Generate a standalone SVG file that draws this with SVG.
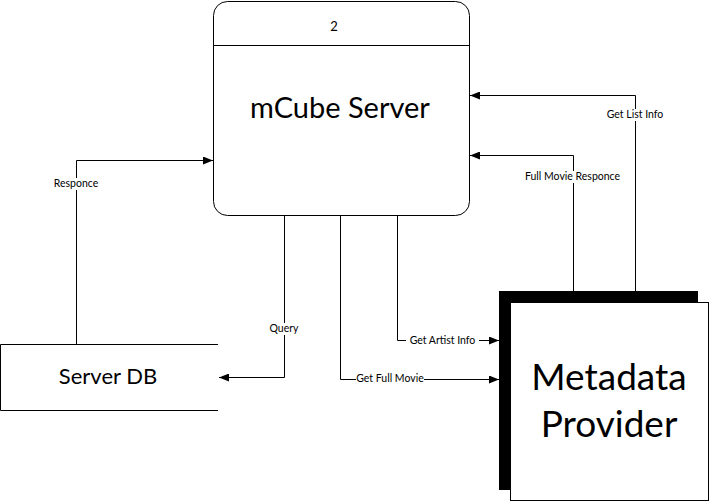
<svg xmlns="http://www.w3.org/2000/svg" width="710" height="502" viewBox="0 0 710 502">
<style>
  .ln{fill:none;stroke:#000;stroke-width:1}
  .t{font-family:Lato,"Liberation Sans",sans-serif;fill:#000;text-anchor:middle}
  .lbl{font-size:10.5px}
  .bg{fill:#fff}
</style>
<defs>
  <marker id="ah" viewBox="0 0 10 8" refX="10" refY="4" markerWidth="10" markerHeight="8" markerUnits="userSpaceOnUse" orient="auto">
    <path d="M0 0L10 4L0 8z" fill="#000"/>
  </marker>
</defs>
<rect width="710" height="502" fill="#fff"/>
<g id="connectors">
  <path class="ln" d="M635.5 291V95.5H470" marker-end="url(#ah)"/>
  <path class="ln" d="M573.5 291V155.5H470" marker-end="url(#ah)"/>
  <path class="ln" d="M76.5 344V160.5H213" marker-end="url(#ah)"/>
  <path class="ln" d="M284.5 215V377.5H219" marker-end="url(#ah)"/>
  <path class="ln" d="M340.5 215V379.5H499" marker-end="url(#ah)"/>
  <path class="ln" d="M397.5 215V340.5H499" marker-end="url(#ah)"/>
  <rect class="bg" x="606" y="109" width="58" height="12"/>
  <rect class="bg" x="525" y="171" width="95" height="12"/>
  <rect class="bg" x="51" y="178" width="50" height="12"/>
  <rect class="bg" x="267" y="323" width="34" height="12"/>
  <rect class="bg" x="406" y="335" width="73" height="12"/>
  <rect class="bg" x="356" y="373" width="68" height="12"/>
  <text class="t lbl" x="635" y="118">Get List Info</text>
  <text class="t lbl" x="572.5" y="180">Full Movie Responce</text>
  <text class="t lbl" x="76" y="187">Responce</text>
  <text class="t lbl" x="284" y="332">Query</text>
  <text class="t lbl" x="442.5" y="344">Get Artist Info</text>
  <text class="t lbl" x="390" y="382">Get Full Movie</text>
</g>
<g id="mcube-server">
  <rect class="ln" x="213.5" y="1.5" width="256" height="214" rx="14" fill="#fff"/>
  <line class="ln" x1="213.5" y1="45.5" x2="469.5" y2="45.5"/>
  <text class="t" x="334" y="31" font-size="13">2</text>
  <text class="t" x="340" y="118" font-size="29">mCube Server</text>
</g>
<g id="server-db">
  <path class="ln" d="M218 344.5H0.5V410.5H218"/>
  <text class="t" x="108" y="384" font-size="22">Server DB</text>
</g>
<g id="metadata-provider">
  <rect x="499" y="291" width="199" height="199" fill="#000"/>
  <rect x="510.5" y="302.5" width="198" height="198" fill="#fff" stroke="#000"/>
  <text class="t" x="609" y="390" font-size="37">Metadata</text>
  <text class="t" x="609" y="437" font-size="37">Provider</text>
</g>
</svg>
